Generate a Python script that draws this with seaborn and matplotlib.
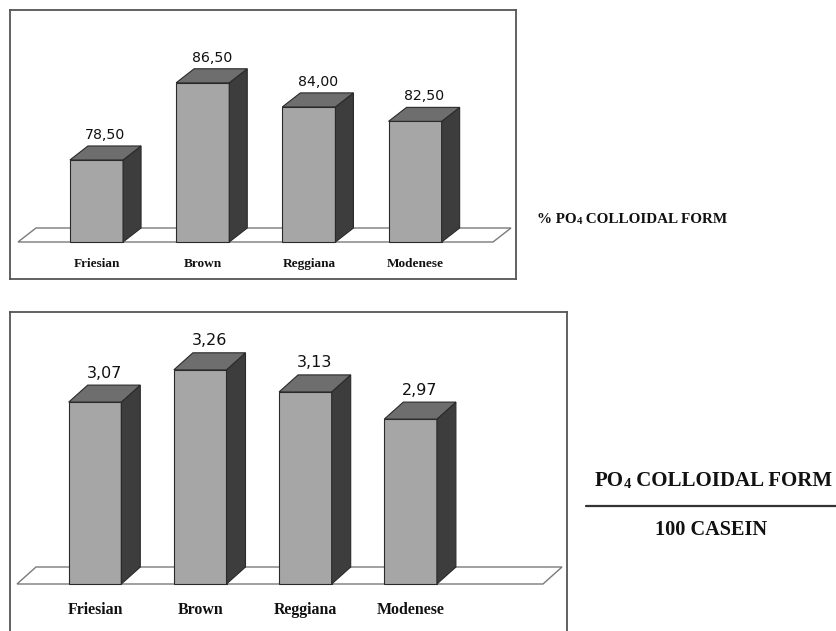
import numpy as np
import pandas as pd
import seaborn as sns
import matplotlib.pyplot as plt
from matplotlib.patches import Polygon
from matplotlib.lines import Line2D

# ---- data -------------------------------------------------------------
breeds = ["Friesian", "Brown", "Reggiana", "Modenese"]
pct_colloidal = [78.50, 86.50, 84.00, 82.50]          # % PO4 in colloidal form
ratio_casein = [3.07, 3.26, 3.13, 2.97]               # colloidal PO4 / 100 casein
pct_labels = ["78,50", "86,50", "84,00", "82,50"]
ratio_labels = ["3,07", "3,26", "3,13", "2,97"]

# ---- style ------------------------------------------------------------
W, H = 837, 631
sns.set_theme(style="white")
plt.rcParams["font.family"] = ["DejaVu Sans"]
SERIF = ["Liberation Serif", "DejaVu Serif"]

FRONT = "#a6a6a6"
TOP = "#6e6e6e"
SIDE = "#3d3d3d"
EDGE = "#2a2a2a"
FRAME = "#555555"

fig = plt.figure(figsize=(W / 100, H / 100), dpi=100)


def bar_panel(values, labels, box, c0, step, base_px, base_val, ppu,
              depth, floor_px, cat_y_px, cat_fs, val_fs, val_off,
              hide_bottom=False):
    left, top, right, bottom = box
    ax = fig.add_axes([left / W, 1 - bottom / H, (right - left) / W,
                       (bottom - top) / H])

    def xd(px):
        return (px - c0) / step

    def yd(py):
        return base_val + (base_px - py) / ppu

    df = pd.DataFrame({"breed": breeds, "value": values})
    sns.barplot(data=df, x="breed", y="value", color=FRONT, saturation=1,
                width=0.5, edgecolor=EDGE, linewidth=0.8, ax=ax, zorder=2)

    ax.set_xlim(xd(left), xd(right))
    ax.set_ylim(yd(bottom), yd(top))
    ax.set_xticks([])
    ax.set_yticks([])
    ax.set_xlabel("")
    ax.set_ylabel("")
    for name, sp in ax.spines.items():
        sp.set_color(FRAME)
        sp.set_linewidth(1.3)
    if hide_bottom:
        ax.spines["bottom"].set_visible(False)

    dx = depth[0] / step
    dy = depth[1] / ppu

    # floor plane
    f0, f1 = xd(floor_px[0]), xd(floor_px[1])
    ax.add_patch(Polygon([(f0, base_val), (f1, base_val),
                          (f1 + dx, base_val + dy), (f0 + dx, base_val + dy)],
                         closed=True, facecolor="white", edgecolor="#7a7a7a",
                         linewidth=1.0, zorder=1))

    # bars rise from the floor; add top and side faces
    for patch, v, lab in zip(ax.patches[:len(values)], values, labels):
        x0 = patch.get_x()
        w = patch.get_width()
        x1 = x0 + w
        patch.set_y(base_val)
        patch.set_height(v - base_val)
        ax.add_patch(Polygon([(x1, base_val), (x1 + dx, base_val + dy),
                              (x1 + dx, v + dy), (x1, v)], closed=True,
                             facecolor=SIDE, edgecolor=EDGE, linewidth=0.8,
                             zorder=2.1))
        ax.add_patch(Polygon([(x0, v), (x1, v), (x1 + dx, v + dy),
                              (x0 + dx, v + dy)], closed=True,
                             facecolor=TOP, edgecolor=EDGE, linewidth=0.8,
                             zorder=2.1))
        ax.text(x0 + w / 2 + dx / 2, v + dy + val_off / ppu, lab,
                ha="center", va="center", fontsize=val_fs, color="#111111",
                zorder=3)

    for i, b in enumerate(breeds):
        ax.text(i, yd(cat_y_px), b, ha="center", va="baseline",
                fontsize=cat_fs, fontweight="bold", family=SERIF,
                color="#111111")
    return ax


ax_top = bar_panel(pct_colloidal, pct_labels,
                   box=(10, 10, 516, 279), c0=96.5, step=106.2,
                   base_px=242, base_val=70.0, ppu=9.65,
                   depth=(18, 14), floor_px=(18, 493), cat_y_px=267,
                   cat_fs=9.5, val_fs=10.2, val_off=11)

ax_bot = bar_panel(ratio_casein, ratio_labels,
                   box=(10, 312, 567, 650), c0=95, step=105.2,
                   base_px=584, base_val=2.0, ppu=170,
                   depth=(19, 17), floor_px=(17, 543), cat_y_px=614,
                   cat_fs=11.4, val_fs=11.5, val_off=12, hide_bottom=True)


def chained_label(ax, x_px, y_px, parts, size, small):
    """Write 'PO' + small '4' + rest as one line starting at x_px."""
    t = fig.text(x_px / W, 1 - y_px / H, parts[0], ha="left", va="bottom",
                 fontsize=size, fontweight="bold", family=SERIF,
                 color="#111111")
    t2 = ax.annotate(parts[1], xy=(1, 0), xycoords=t, ha="left",
                     va="bottom", fontsize=small, fontweight="bold",
                     family=SERIF, color="#111111", annotation_clip=False)
    ax.annotate(parts[2], xy=(1, 0), xycoords=t2, ha="left", va="bottom",
                fontsize=size, fontweight="bold", family=SERIF,
                color="#111111", annotation_clip=False)


chained_label(ax_top, 537, 226, ["% PO", "4", " COLLOIDAL FORM"], 10.9, 7.8)
chained_label(ax_bot, 595, 491, ["PO", "4", " COLLOIDAL FORM"], 15, 10.5)

fig.add_artist(Line2D([586 / W, 1.0], [1 - 506 / H, 1 - 506 / H],
                      transform=fig.transFigure, color="#333333", lw=1.6))
fig.text(711 / W, 1 - 530 / H, "100 CASEIN", ha="center", va="center",
         fontsize=14.6, fontweight="bold", family=SERIF, color="#111111")

fig.savefig("out.png", dpi=100)
